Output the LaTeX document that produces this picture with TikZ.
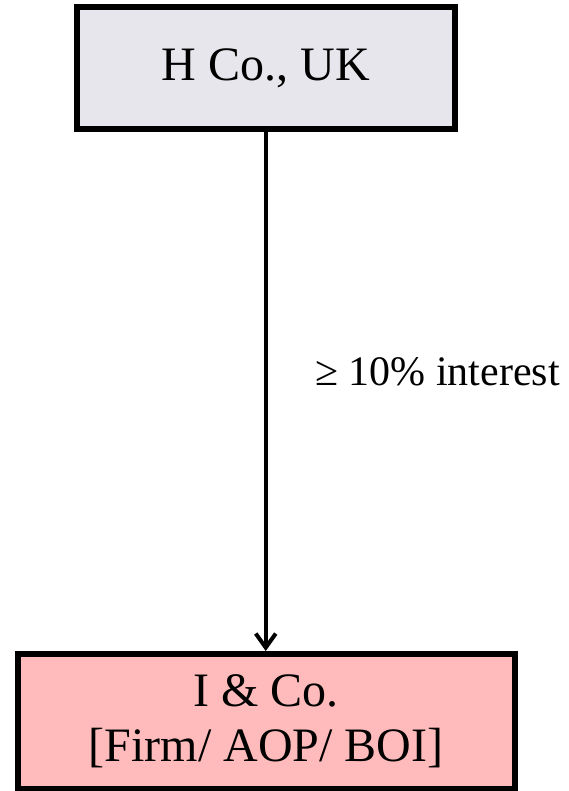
\documentclass[tikz,border=0pt]{standalone}
\usepackage{fontspec}
\setmainfont{Liberation Serif}
\usetikzlibrary{arrows.meta}
\definecolor{parentgray}{RGB}{231,230,236}
\definecolor{firmpink}{RGB}{255,187,187}
\begin{document}
\begin{tikzpicture}[x=1pt,y=1pt,
    entity/.style={draw,line width=6pt,inner sep=0pt,align=center,
        font=\fontsize{48}{55}\selectfont},
    holding/.style={line width=4pt,-{Straight Barb[length=14pt,width=20pt]}}]
                \useasboundingbox (0,0) rectangle (568,-791);
                %% entities
                \node[entity,fill=parentgray,minimum width=377.5pt,minimum height=122pt] (hco) at (265.75,-68) {H Co., UK};
                \node[entity,fill=firmpink,minimum width=496.5pt,minimum height=135pt] (ico) at (266.25,-721.5) {I \& Co.\\{}[Firm/ AOP/ BOI]};
                %% shareholding
                \draw[holding] (hco.south) -- (hco.south |- ico.north);
                \node[anchor=base west,inner sep=0pt,font=\fontsize{42}{50}\selectfont] (stake) at (315,-385) {≥ 10\% interest};
            \end{tikzpicture}
\end{document}
